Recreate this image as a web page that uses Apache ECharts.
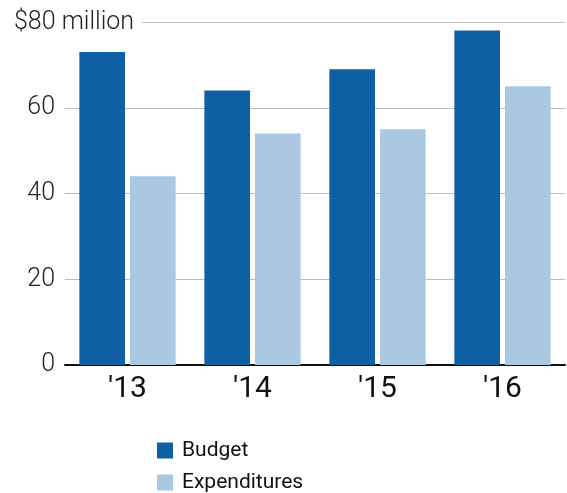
<!DOCTYPE html>
<html>
<head>
<meta charset="utf-8">
<script src="https://cdn.jsdelivr.net/npm/echarts@6/dist/echarts.min.js"></script>
<style>
  html, body { margin: 0; padding: 0; background: #fff; }
  #chart { width: 567px; height: 493px; }
</style>
</head>
<body>
<div id="chart"></div>
<script>
var years = ["'13", "'14", "'15", "'16"];
var budget = [73, 64, 69, 78];
var expenditures = [44, 54, 55, 65];
var yTicks = [0, 20, 40, 60, 80];

var chart = echarts.init(document.getElementById("chart"), null, { renderer: "canvas" });

var option = {
  animation: false,
  color: ["#0e5fa3", "#aac8e1"],
  grid: {
    left: 65,
    right: 2,
    top: 22,
    bottom: 128,
    containLabel: false,
  },
  legend: {
    orient: "vertical",
    left: 157,
    bottom: 0,
    padding: 0,
    itemWidth: 16,
    itemHeight: 16,
    itemGap: 11,
    icon: "rect",
    textStyle: {
      fontFamily: "Roboto",
      fontSize: 21,
      color: "#111",
      padding: [0, 0, 0, 4],
    },
    data: ["Budget", "Expenditures"],
  },
  xAxis: {
    type: "category",
    data: years,
    axisTick: { show: false },
    axisLine: { lineStyle: { color: "#111", width: 2 } },
    axisLabel: {
      fontFamily: "Roboto",
      fontSize: 30,
      color: "#111",
      margin: 9,
    },
  },
  yAxis: {
    type: "value",
    min: yTicks[0],
    max: yTicks[yTicks.length - 1],
    interval: 20,
    axisLine: { show: false },
    axisTick: { show: false },
    splitLine: { lineStyle: { color: "#bdbdbd", width: 1 } },
    axisLabel: {
      fontFamily: "Roboto",
      fontSize: 25,
      fontWeight: 300,
      color: "#222",
      margin: 10,
      formatter: function (v) {
        return v === 80 ? "" : String(v);
      },
    },
  },
  graphic: [
    {
      type: "text",
      left: 14,
      top: 10,
      z: 100,
      style: {
        text: "$80 million",
        fontFamily: "Roboto",
        fontSize: 25,
        fontWeight: 300,
        fill: "#222",
        backgroundColor: "#fff",
        padding: [0, 8, 0, 0],
      },
    },
  ],
  series: [
    {
      name: "Budget",
      type: "bar",
      data: budget,
      barWidth: "36.5%",
      barGap: "11%",
    },
    {
      name: "Expenditures",
      type: "bar",
      data: expenditures,
      barWidth: "36.5%",
      barGap: "11%",
    },
  ],
};

chart.setOption(option);
</script>
</body>
</html>
